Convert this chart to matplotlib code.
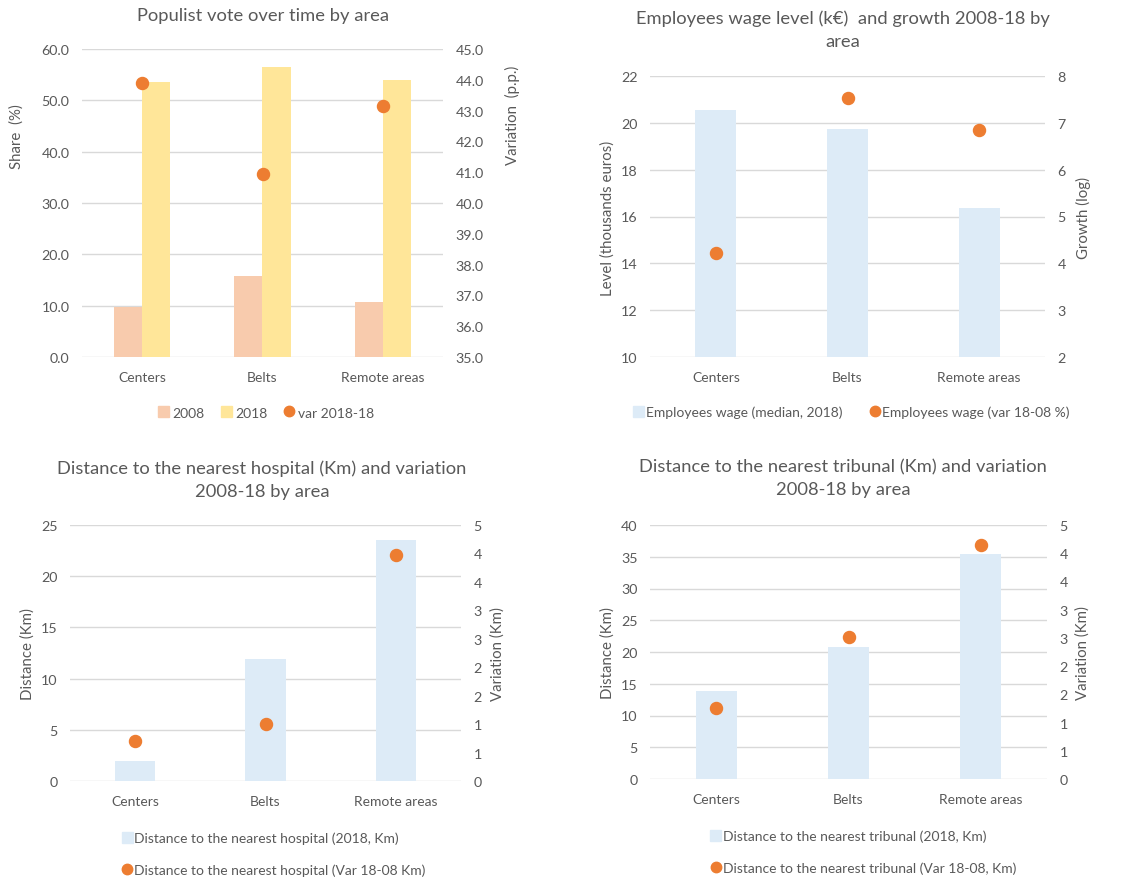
import numpy as np
import matplotlib
matplotlib.use("Agg")
import matplotlib.pyplot as plt
from matplotlib.lines import Line2D
from matplotlib.patches import Patch

plt.rcParams['font.family'] = ['Lato', 'DejaVu Sans']

# Data
areas = ['Centers', 'Belts', 'Remote areas']

vote_2008 = [9.7, 15.7, 10.8]
vote_2018 = [53.6, 56.5, 54.0]
vote_var = [43.9, 40.95, 43.15]

wage_level = [20.53, 19.75, 16.35]
wage_growth = [4.21, 7.52, 6.85]

hosp_dist = [1.96, 11.93, 23.53]
hosp_var = [0.79, 1.12, 4.42]

trib_dist = [13.8, 20.8, 35.45]
trib_var = [1.40, 2.79, 4.61]

# Colours
TXT = '#595959'
GRID = '#D9D9D9'
PEACH = '#F8CBAD'
YELLOW = '#FFE699'
BLUE = '#DDEBF7'
ORANGE = '#ED7D31'

fig = plt.figure(figsize=(11.35, 8.78), dpi=100)
W, H = 1135, 878


def box(x0, y0, x1, y1):
    return [x0 / W, 1 - y1 / H, (x1 - x0) / W, (y1 - y0) / H]


def style(ax, ax2):
    for a in (ax, ax2):
        for s in a.spines.values():
            s.set_visible(False)
        a.tick_params(length=0, colors=TXT, labelsize=10.3)
    ax.tick_params(axis='y', pad=9)
    ax2.tick_params(axis='y', pad=9)
    ax.tick_params(axis='x', pad=10)
    ax.grid(axis='y', color=GRID, lw=1)
    ax.set_axisbelow(True)
    ax.set_xlim(-0.5, 2.5)
    ax.set_xticks(range(3))
    ax.set_xticklabels(areas, fontsize=10)


def ylab(x, y, s):
    fig.text(x / W, 1 - y / H, s, rotation=90, ha='center', va='center',
             color=TXT, fontsize=10.8)


def title(x, y, s):
    fig.text(x / W, 1 - y / H, s, ha='center', va='center', color=TXT,
             fontsize=13.2, linespacing=1.5)


def dot(label):
    return Line2D([], [], ls='', marker='o', ms=7.5, color=ORANGE, label=label)


x = np.arange(3)

# Populist vote
ax1 = fig.add_axes(box(82, 50, 443, 358))
ax1b = ax1.twinx()
ax1.bar(x - 0.117, vote_2008, width=0.235, color=PEACH)
ax1.bar(x + 0.117, vote_2018, width=0.235, color=YELLOW)
ax1b.scatter(x, vote_var, s=75, color=ORANGE, zorder=3)
ax1.set_ylim(0, 60)
ax1.set_yticks(np.arange(0, 61, 10))
ax1.yaxis.set_major_formatter('{x:.1f}')
ax1b.set_ylim(35, 45)
ax1b.set_yticks(np.arange(35, 45.1, 1))
ax1b.yaxis.set_major_formatter('{x:.1f}')
style(ax1, ax1b)
title(263, 16, 'Populist vote over time by area')
ylab(17, 137, 'Share  (%)')
ylab(512, 115, 'Variation  (p.p.)')
ax1.legend(handles=[Patch(color=PEACH, label='2008'),
                    Patch(color=YELLOW, label='2018'),
                    dot('var 2018-18')],
           loc='center', bbox_to_anchor=(0.51, -0.18), ncol=3, frameon=False,
           handlelength=0.8, handleheight=0.8, handletextpad=0.2,
           columnspacing=1.2, fontsize=10, labelcolor=TXT)

# Wages
ax2 = fig.add_axes(box(650, 77, 1045, 358))
ax2b = ax2.twinx()
ax2.bar(x, wage_level, width=0.31, color=BLUE)
ax2b.scatter(x, wage_growth, s=75, color=ORANGE, zorder=3)
ax2.set_ylim(10, 22)
ax2.set_yticks(np.arange(10, 23, 2))
ax2b.set_ylim(2, 8)
ax2b.set_yticks(np.arange(2, 9, 1))
style(ax2, ax2b)
title(843, 30, 'Employees wage level (k€)  and growth 2008-18 by\narea')
ylab(608, 218, 'Level (thousands euros)')
ylab(1083, 218, 'Growth (log)')
ax2.legend(handles=[Patch(color=BLUE, label='Employees wage (median, 2018)'),
                    dot('Employees wage (var 18-08 %)')],
           loc='center', bbox_to_anchor=(0.51, -0.195), ncol=2, frameon=False,
           handlelength=0.8, handleheight=0.8, handletextpad=0.1,
           columnspacing=2.0, fontsize=10, labelcolor=TXT)

# Hospitals
ax3 = fig.add_axes(box(70, 526, 461, 782))
ax3b = ax3.twinx()
ax3.bar(x, hosp_dist, width=0.31, color=BLUE)
ax3b.scatter(x, hosp_var, s=75, color=ORANGE, zorder=3)
ax3.set_ylim(0, 25)
ax3.set_yticks(np.arange(0, 26, 5))
ax3b.set_ylim(0, 5)
ax3b.set_yticks(np.linspace(0, 5, 10))
ax3b.yaxis.set_major_formatter('{x:.0f}')
style(ax3, ax3b)
title(262, 480, 'Distance to the nearest hospital (Km) and variation\n2008-18 by area')
ylab(28, 654, 'Distance (Km)')
ylab(498, 654, 'Variation (Km)')
ax3.legend(handles=[Patch(color=BLUE, label='Distance to the nearest hospital (2018, Km)'),
                    dot('Distance to the nearest hospital (Var 18-08 Km)')],
           loc='upper left', bbox_to_anchor=(0.1, -0.15), ncol=1, frameon=False,
           handlelength=0.8, handleheight=0.8, handletextpad=0.1,
           labelspacing=1.4, fontsize=10, labelcolor=TXT)

# Tribunals
ax4 = fig.add_axes(box(650, 526, 1047, 780))
ax4b = ax4.twinx()
ax4.bar(x, trib_dist, width=0.31, color=BLUE)
ax4b.scatter(x, trib_var, s=75, color=ORANGE, zorder=3)
ax4.set_ylim(0, 40)
ax4.set_yticks(np.arange(0, 41, 5))
ax4b.set_ylim(0, 5)
ax4b.set_yticks(np.linspace(0, 5, 10))
ax4b.yaxis.set_major_formatter('{x:.0f}')
style(ax4, ax4b)
title(843, 479, 'Distance to the nearest tribunal (Km) and variation\n2008-18 by area')
ylab(608, 653, 'Distance (Km)')
ylab(1083, 653, 'Variation (Km)')
ax4.legend(handles=[Patch(color=BLUE, label='Distance to the nearest tribunal (2018, Km)'),
                    dot('Distance to the nearest tribunal (Var 18-08, Km)')],
           loc='upper left', bbox_to_anchor=(0.12, -0.15), ncol=1, frameon=False,
           handlelength=0.8, handleheight=0.8, handletextpad=0.1,
           labelspacing=1.4, fontsize=10, labelcolor=TXT)

fig.savefig('out.png', dpi=100, facecolor='white')
